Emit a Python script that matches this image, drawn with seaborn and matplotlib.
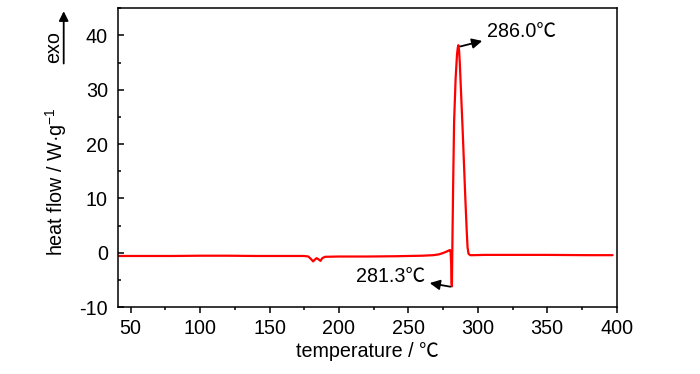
import matplotlib
matplotlib.use("Agg")
import matplotlib.pyplot as plt
import seaborn as sns
import pandas as pd
from matplotlib.ticker import MultipleLocator

# DSC curve
temperature = [40, 60, 80, 100, 120, 140, 160, 175, 178, 180, 181.4, 182.5, 183.9, 185.2, 186.7,
               188, 190, 200, 220, 240, 250, 260, 268, 272, 275, 277, 279, 280.0, 280.4, 280.8,
               281.1, 281.3, 281.6, 282.2, 282.9, 284.0, 285.0, 285.6, 286.0, 286.5, 287.0, 288.0,
               289.0, 290.0, 291.0, 292.0, 292.6, 293.3, 294.5, 297, 305, 320, 350, 380, 397]
heat_flow = [-0.6, -0.6, -0.6, -0.55, -0.55, -0.6, -0.6, -0.6, -0.7, -1.2, -1.6, -1.3, -1.0, -1.2, -1.5,
             -1.0, -0.75, -0.7, -0.7, -0.65, -0.6, -0.55, -0.45, -0.3, -0.05, 0.15, 0.4, 0.5, 0.2, -2.0,
             -5.5, -6.2, 0.0, 12.0, 24.0, 32.0, 36.5, 37.8, 38.2, 37.2, 35.0, 29.0,
             23.0, 16.5, 10.0, 4.0, 1.0, -0.2, -0.45, -0.45, -0.4, -0.4, -0.4, -0.45, -0.45]

peak_label = "286.0℃"
min_label = "281.3℃"
x_ticks = [50, 100, 150, 200, 250, 300, 350, 400]
y_ticks = [-10, 0, 10, 20, 30, 40]

df = pd.DataFrame({"temperature": temperature, "heat_flow": heat_flow})

sns.set_style("ticks")
plt.rcParams["font.family"] = ["Liberation Sans", "Noto Sans CJK SC", "DejaVu Sans"]
plt.rcParams["mathtext.fontset"] = "custom"
plt.rcParams["mathtext.rm"] = "Liberation Sans"
plt.rcParams["mathtext.it"] = "Liberation Sans"
plt.rcParams["axes.unicode_minus"] = False
plt.rcParams["text.color"] = "black"
plt.rcParams["axes.labelcolor"] = "black"
plt.rcParams["xtick.color"] = "black"
plt.rcParams["ytick.color"] = "black"

fs = 14.2

fig = plt.figure(figsize=(7, 3.74), dpi=100)
ax = fig.add_axes([0.168, 0.179, 0.713, 0.799])

sns.lineplot(data=df, x="temperature", y="heat_flow", color="#ff0000", linewidth=1.6, ax=ax)

ax.set_xlim(40.6, 400)
ax.set_ylim(-10, 45)
ax.set_xticks(x_ticks)
ax.set_yticks(y_ticks)
ax.xaxis.set_minor_locator(MultipleLocator(25))
ax.yaxis.set_minor_locator(MultipleLocator(5))
ax.tick_params(axis="x", which="major", direction="out", length=4.5, width=1.1, labelsize=fs, pad=4)
ax.tick_params(axis="x", which="minor", direction="out", length=2.5, width=1.1)
ax.tick_params(axis="y", which="major", direction="in", length=4, width=1.1, labelsize=fs, pad=7)
ax.tick_params(axis="y", which="minor", direction="in", length=2.5, width=1.1)
for s in ax.spines.values():
    s.set_linewidth(1.1)
    s.set_color("black")

ax.set_xlabel("temperature / ℃", fontsize=fs, labelpad=3)
ax.set_ylabel("heat flow / W·g$^{-1}$", fontsize=fs)
ax.yaxis.set_label_coords(-0.098, 0.42)

# exo arrow at the top left
ax.text(-0.128, 0.87, "exo", rotation=90, ha="center", va="center", fontsize=fs,
        transform=ax.transAxes)
ax.annotate("", xy=(-0.108, 0.99), xytext=(-0.108, 0.815), xycoords="axes fraction",
            textcoords="axes fraction", annotation_clip=False,
            arrowprops=dict(arrowstyle="-|>", color="black", lw=1.3, mutation_scale=14,
                            shrinkA=0, shrinkB=0))

arrow = dict(arrowstyle="<|-", color="black", lw=1.3, mutation_scale=15, shrinkA=1, shrinkB=1)
ax.annotate(peak_label, xy=(286.4, 37.9), xytext=(306.5, 40.8), fontsize=fs,
            ha="left", va="center", arrowprops=arrow)
ax.annotate(min_label, xy=(281.2, -6.3), xytext=(262.0, -4.3), fontsize=fs,
            ha="right", va="center", arrowprops=arrow)

fig.savefig("out.png", dpi=100)
